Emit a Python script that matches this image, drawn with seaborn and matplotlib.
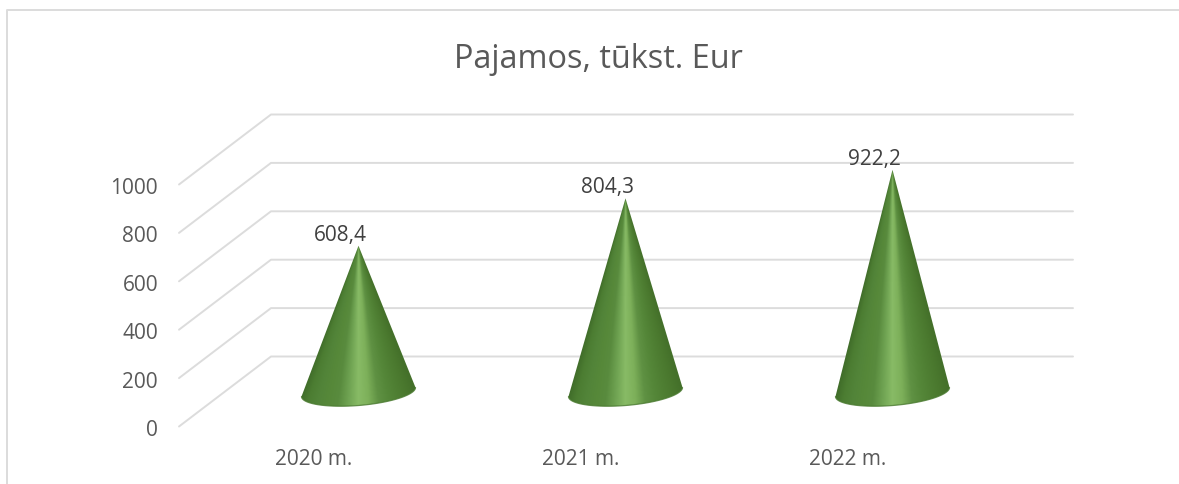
import numpy as np
import pandas as pd
import seaborn as sns
import matplotlib.pyplot as plt
from matplotlib.patches import Polygon

# chart values
years = ["2020 m.", "2021 m.", "2022 m."]
income = [608.4, 804.3, 922.2]
income_labels = ["608,4", "804,3", "922,2"]
y_ticks = [0, 200, 400, 600, 800, 1000]
title = "Pajamos, tūkst. Eur"

W, H = 1179, 485
PX_PER_VALUE = 0.242
PX_PER_CAT = 267
X0_PX, Y0_PX = 358.5, 427.5

sns.set_theme(style="white")
plt.rcParams['font.family'] = ['Open Sans', 'DejaVu Sans']

fig = plt.figure(figsize=(W / 100, H / 100), dpi=100)
ax = fig.add_axes([0, 0, 1, 1])
ax.set_xlim(-X0_PX / PX_PER_CAT, (W - X0_PX) / PX_PER_CAT)
ax.set_ylim(-(H - Y0_PX) / PX_PER_VALUE, Y0_PX / PX_PER_VALUE)
ax.axis("off")


def px_x(n):
    return n / PX_PER_CAT


def px_y(n):
    return n / PX_PER_VALUE


# outer chart frame (runs off the crop at right and bottom)
left, right = ax.get_xlim()
bottom, top = ax.get_ylim()
frame_x = left + px_x(7.5)
frame_y = top - px_y(10.5)
ax.plot([frame_x, frame_x, right], [bottom, frame_y, frame_y], color="#dcdcdc", lw=1.4)

# gridlines: floor edge, then along the back wall
front_x = left + px_x(179)
back_x = left + px_x(271)
end_x = left + px_x(1073)
lift = px_y(70)
rows = []
for t in y_ticks:
    rows.append({"tick": t, "order": 0, "x": front_x, "y": t})
    rows.append({"tick": t, "order": 1, "x": back_x, "y": t + lift})
    rows.append({"tick": t, "order": 2, "x": end_x, "y": t + lift})
grid = pd.DataFrame(rows)
sns.lineplot(data=grid, x="x", y="y", units="tick", estimator=None, sort=False,
             color="#dcdcdc", lw=1.4, ax=ax, legend=False, zorder=1)

# cone shading across the angle, from the left silhouette to the right one
shade = sns.blend_palette(["#3e6a28", "#4c7d32", "#528439", "#568839", "#598b3e", "#6fa352", "#88bb66",
                           "#7db05a", "#5f9143", "#558739", "#4f7f33", "#4a782e", "#44702a"],
                          n_colors=256, as_cmap=True)
half_w = px_x(57)
rim = px_y(13.5)
tilt = px_y(4.5) / half_w
base_y = px_y(33.5)     # value 0 of a cone sits this far above the front floor edge
rim_y = px_y(34.5)      # centre of the visible base ellipse

for i, v in enumerate(income):
    apex = base_y + v
    th = np.linspace(np.pi, 2 * np.pi, 80)
    ex = i + half_w * np.cos(th)
    ey = rim_y + rim * np.sin(th) + tilt * half_w * np.cos(th)

    nx, ny = 260, 400
    gx = np.linspace(i - half_w * 1.02, i + half_w * 1.02, nx)
    gy = np.linspace(rim_y - rim * 1.4, apex, ny)
    xx, yy = np.meshgrid(gx, gy)
    frac = np.clip((apex - yy) / (apex - rim_y), 1e-3, None)
    u = np.clip((xx - i) / (half_w * frac), -1, 1)
    img = ax.imshow((u + 1) / 2, cmap=shade, vmin=0, vmax=1, origin="lower", aspect="auto",
                    extent=(gx[0], gx[-1], gy[0], gy[-1]), zorder=3, interpolation="bilinear")
    outline = Polygon(np.column_stack([np.r_[ex, i], np.r_[ey, apex]]), closed=True,
                      transform=ax.transData, fc="none", ec="none")
    ax.add_patch(outline)
    img.set_clip_path(outline)
    ax.plot(ex, ey, color="#4a7a30", lw=0.9, alpha=0.8, zorder=4)

    ax.text(i - px_x(18), apex + px_y(11.5), income_labels[i], ha="center", va="center", fontsize=15,
            color="#404040", zorder=4)
    ax.text(i - px_x(44.5), -px_y(32), years[i], ha="center", va="center", fontsize=15, color="#595959")

# restore limits after imshow
ax.set_xlim(left, right)
ax.set_ylim(bottom, top)

for t in y_ticks:
    ax.text(left + px_x(158), t - px_y(3), str(t), ha="right", va="center", fontsize=15, color="#595959")

ax.text(left + px_x(598), top - px_y(59), title, ha="center", va="center", fontsize=23.4, color="#595959")

fig.savefig("out.png", dpi=100)
